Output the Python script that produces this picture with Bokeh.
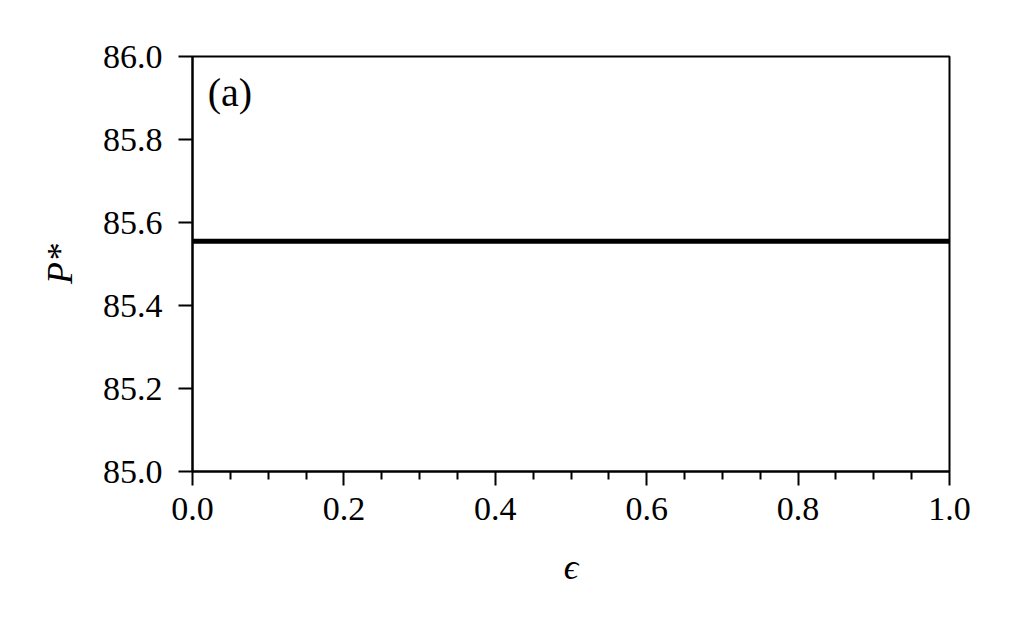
from bokeh.plotting import figure
from bokeh.models import FixedTicker, PrintfTickFormatter, Label, Range1d
from bokeh.embed import file_html
from bokeh.resources import INLINE

# data
eps = [0.0, 0.25, 0.5, 0.75, 1.0]
p_star = [85.555, 85.555, 85.555, 85.555, 85.555]
x_major = [0.0, 0.2, 0.4, 0.6, 0.8, 1.0]
x_minor = [0.05, 0.1, 0.15, 0.25, 0.3, 0.35, 0.45, 0.5, 0.55, 0.65, 0.7, 0.75, 0.85, 0.9, 0.95]
y_major = [85.0, 85.2, 85.4, 85.6, 85.8, 86.0]
panel_label = "(a)"

FONT = "Liberation Serif"
FS = "34px"

p = figure(width=1000, height=612, output_backend="svg", toolbar_location=None,
           x_range=Range1d(0, 1), y_range=Range1d(85.0, 86.0),
           min_border_left=192, min_border_right=51, min_border_top=56, min_border_bottom=141)
p.grid.visible = False
p.outline_line_color = "black"
p.outline_line_width = 2
p.background_fill_color = "white"
p.border_fill_color = "white"

p.line(eps, p_star, line_color="black", line_width=5)

for ax in (p.xaxis[0], p.yaxis[0]):
    ax.axis_line_width = 2
    ax.axis_line_color = "black"
    ax.major_tick_line_width = 2
    ax.minor_tick_line_width = 2
    ax.major_tick_in = 0
    ax.minor_tick_in = 0
    ax.major_label_text_font = FONT
    ax.major_label_text_font_size = FS
    ax.major_label_text_color = "black"
    ax.axis_label_text_font = FONT
    ax.axis_label_text_font_size = "36px"
    ax.axis_label_text_font_style = "italic"
    ax.axis_label_text_color = "black"
    ax.formatter = PrintfTickFormatter(format="%.1f")

p.xaxis[0].ticker = FixedTicker(ticks=x_major, minor_ticks=x_minor)
p.xaxis[0].major_tick_out = 14
p.xaxis[0].minor_tick_out = 8
p.xaxis[0].major_label_standoff = 12
p.xaxis[0].axis_label = "ϵ"
p.xaxis[0].axis_label_standoff = 24

p.yaxis[0].ticker = FixedTicker(ticks=y_major, minor_ticks=[])
p.yaxis[0].major_tick_out = 14
p.yaxis[0].minor_tick_out = 0
p.yaxis[0].major_label_standoff = 16
p.yaxis[0].axis_label = "P*"
p.yaxis[0].axis_label_standoff = 20

p.add_layout(Label(x=0.02, y=85.968, text=panel_label, text_font=FONT, text_font_size="40px",
                   text_baseline="top", text_align="left", text_color="black"))

open("out.html", "w").write(file_html(p, INLINE))
